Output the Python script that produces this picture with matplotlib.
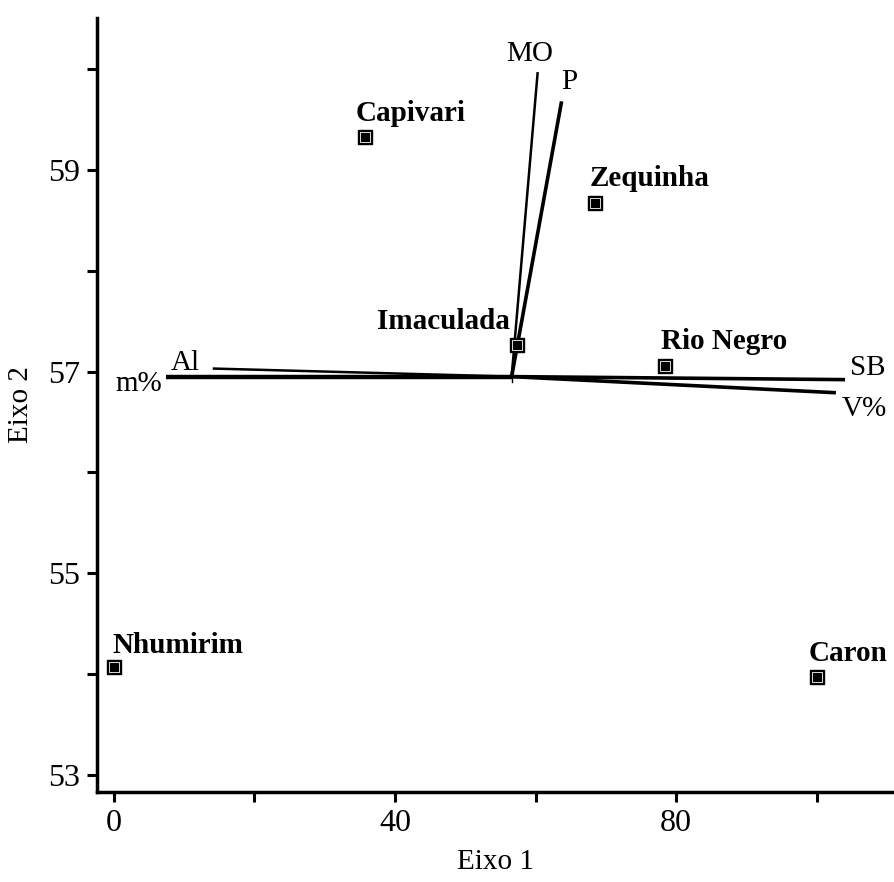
import matplotlib
matplotlib.use("Agg")
import matplotlib.pyplot as plt

# Sites (scores sur les axes)
sites = ["Capivari", "Zequinha", "Imaculada", "Rio Negro", "Nhumirim", "Caron"]
site_x = [35.8, 68.4, 57.3, 78.4, 0.1, 100.0]
site_y = [59.33, 58.67, 57.26, 57.06, 54.07, 53.97]

# Variables du sol (vecteurs depuis le centre)
centre_x = 56.6
centre_y = 56.95
variables = ["MO", "P", "Al", "m%", "SB", "V%"]
var_x = [60.3, 63.7, 14.1, 7.5, 104.0, 102.7]
var_y = [59.97, 59.68, 57.03, 56.95, 56.92, 56.79]

# Habillage (décalages des étiquettes en pixels, épaisseur des traits)
site_offsets = [(45, 23), (55, 25), (-73, 24), (59, 24), (64, 22), (31, 24)]
var_offsets = [(-8, 18), (8, 19), (-27, 6), (-27, -7), (23, 12), (28, -16)]
var_lw = [1.8, 2.6, 1.8, 3.2, 2.6, 2.6]

plt.rcParams["font.family"] = ["Liberation Serif", "DejaVu Serif"]

fig = plt.figure(figsize=(8.95, 8.82), dpi=100)
ax = fig.add_axes([0.108, 0.102, 0.892, 0.878])

# Vecteurs
for i, v in enumerate(variables):
    ax.plot([centre_x, var_x[i]], [centre_y, var_y[i]], color="black",
            lw=var_lw[i], solid_capstyle="butt", zorder=2)
    dx, dy = var_offsets[i]
    ax.annotate(v, (var_x[i], var_y[i]), xytext=(dx * 0.72, dy * 0.72),
                textcoords="offset points", ha="center", va="center",
                fontsize=21)

# petite croix au centre
ax.plot([centre_x, centre_x], [centre_y - 0.05, centre_y + 0.05], color="black", lw=1)

# Sites
ax.scatter(site_x, site_y, marker="s", s=100, color="black", zorder=3)
ax.scatter(site_x, site_y, marker="s", s=62, facecolor="black",
           edgecolor="white", linewidth=0.6, zorder=4)
for i, s in enumerate(sites):
    dx, dy = site_offsets[i]
    ax.annotate(s, (site_x[i], site_y[i]), xytext=(dx * 0.72, dy * 0.72),
                textcoords="offset points", ha="center", va="center",
                fontsize=21, fontweight="bold")

ax.set_xlim(-2.4, 111.1)
ax.set_ylim(52.83, 60.51)

ax.set_xticks([0, 20, 40, 60, 80, 100])
ax.set_xticklabels(["0", "", "40", "", "80", ""])
ax.set_yticks([53, 54, 55, 56, 57, 58, 59, 60])
ax.set_yticklabels(["53", "", "55", "", "57", "", "59", ""])

for side in ["top", "right"]:
    ax.spines[side].set_visible(False)
for side in ["left", "bottom"]:
    ax.spines[side].set_linewidth(2.5)
ax.tick_params(direction="out", length=7, width=2.2, labelsize=23, pad=5)

ax.set_xlabel("Eixo 1", fontsize=21, labelpad=8)
ax.set_ylabel("Eixo 2", fontsize=21, labelpad=10)

fig.savefig("out.png", dpi=100)
